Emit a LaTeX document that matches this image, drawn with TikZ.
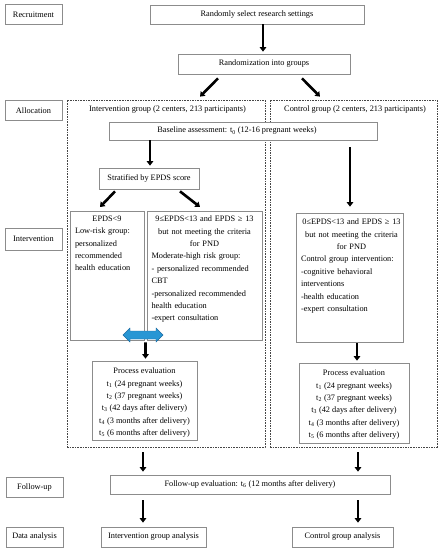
\documentclass[tikz,border=0pt]{standalone}
\usepackage{fontspec}
\setmainfont{Liberation Serif}
\usetikzlibrary{arrows.meta,calc}
\definecolor{boxgray}{RGB}{140,140,140}
\definecolor{dashgray}{RGB}{70,70,70}
\definecolor{blueA}{RGB}{40,150,212}
\definecolor{blueB}{RGB}{25,105,160}
\begin{document}
\begin{tikzpicture}[x=1pt,y=-1pt,
  every node/.style={font=\fontsize{8.3}{12.4}\selectfont, inner sep=0pt},
  box/.style={draw=boxgray, line width=0.7pt, fill=white},
  lab/.style={box, minimum width=57pt, minimum height=20pt},
  dbox/.style={draw=dashgray, line width=0.7pt, dash pattern=on 1.6pt off 1pt},
  arr/.style={line width=2.6pt, -{Triangle[width=6.5pt,length=4.5pt]}, shorten >=2pt},
  txt/.style={anchor=north}]
\useasboundingbox[fill=white] (0,0) rectangle (440,550);

% left column labels
\node[lab] (rec) at (33.5,14.5) {Recruitment};
\node[lab] (alloc) at (33.5,110.5) {Allocation};
\node[lab, minimum height=22pt] (interv) at (33.5,239) {Intervention};
\node[lab] (fol) at (34.5,487) {Follow-up};
\node[lab] (data) at (34.5,537) {Data analysis};

% top
\node[box, minimum width=214pt, minimum height=19pt] (sel) at (257,14.5) {Randomly select research settings};
\node[box, minimum width=172pt, minimum height=20pt] (rnd) at (264,64) {Randomization into groups};
\draw[arr] ($(sel.south)+(6,0)$) -- ($(rnd.north)+(-1,0)$);

% group containers
\node[dbox, minimum width=198pt, minimum height=347pt] (igrp) at (166,273.5) {};
\node[dbox, minimum width=167pt, minimum height=347pt] (cgrp) at (353.5,273.5) {};
\node (ititle) at (167.5,110) {Intervention group (2 centers, 213 participants)};
\node (ctitle) at (355,110) {Control group (2 centers, 213 participants)};

\draw[arr, shorten >=0pt] ($(rnd.south)+(-46,4)$) -- ($(igrp.north)+(34,-3)$);
\draw[arr, shorten >=0pt] ($(rnd.south)+(38,4)$) -- ($(cgrp.north)+(-33.5,-3)$);

% baseline
\node[box, minimum width=268pt, minimum height=18pt] (base) at (243,131) {};
\node (basetxt) at (237,131) {Baseline assessment: t\textsubscript{0} (12-16 pregnant weeks)};

% stratified
\node[box, minimum width=100pt, minimum height=21pt] (strat) at (149,178.5) {Stratified by EPDS score};
\draw[arr] ($(base.south)+(-93,0)$) -- ($(strat.north)+(1,0)$);
\draw[arr, shorten >=0pt] ($(strat.south)+(-34,2)$) -- ($(107,211)+(-7,-4)$);
\draw[arr, shorten >=0pt] ($(strat.south)+(31,2)$) -- ($(204.5,211)+(-4.5,-4)$);

% EPDS boxes
\node[box, minimum width=74pt, minimum height=129pt] (low) at (107,275.5) {};
\node[box, minimum width=115pt, minimum height=129pt] (mod) at (204.5,275.5) {};
\node[txt, text width=64pt] (lowtxt) at ($(low.north)+(0,5)$) {%
  {\centering EPDS<9\par}
  \raggedright Low-risk group:\\ personalized\\ recommended\\ health education};
\node[txt, text width=106pt] (modtxt) at ($(mod.north)+(0,5)$) {%
  {\centering 9≤EPDS<13 and EPDS ≥ 13\\ but not meeting the criteria\\ for PND\par}
  \raggedright Moderate-high risk group:\\ - personalized recommended\\ CBT\\ -personalized recommended\\ health education\\ -expert consultation};

% control box
\node[box, minimum width=107pt, minimum height=129pt] (ctrl) at (349.5,277.5) {};
\node[txt, text width=101pt] (ctrltxt) at ($(ctrl.north)+(2,6)$) {%
  {\centering 0≤EPDS<13 and EPDS ≥ 13\\ but not meeting the criteria\\ for PND\par}
  \raggedright Control group intervention:\\ -cognitive behavioral\\ interventions\\ -health education\\ -expert consultation};
\draw[arr] ($(base.south)+(107,7)$) -- ($(ctrl.north)+(0.5,-4)$);

% blue double arrow
\fill[blueA, draw=blueB, line width=0.4pt] (123,335) -- (130,328) -- (130,331) -- (156,331) -- (156,328)
  -- (163,335) -- (156,342) -- (156,339) -- (130,339) -- (130,342) -- cycle;

% process evaluations
\node[box, minimum width=105pt, minimum height=79pt] (procL) at (144.5,400.5) {};
\node[txt, align=center] (procLtxt) at ($(procL.north)+(0,7)$) {Process evaluation\\ t\textsubscript{1} (24 pregnant weeks)\\ t\textsubscript{2} (37 pregnant weeks)\\ t\textsubscript{3} (42 days after delivery)\\ t\textsubscript{4} (3 months after delivery)\\ t\textsubscript{5} (6 months after delivery)};
\draw[arr] ($(low.south east)!0.5!(mod.south west)+(0,2)$) -- ($(procL.north)+(1,0)$);

\node[box, minimum width=110pt, minimum height=80pt] (procR) at (354,403) {};
\node[txt, align=center] (procRtxt) at ($(procR.north)+(0,7)$) {Process evaluation\\ t\textsubscript{1} (24 pregnant weeks)\\ t\textsubscript{2} (37 pregnant weeks)\\ t\textsubscript{3} (42 days after delivery)\\ t\textsubscript{4} (3 months after delivery)\\ t\textsubscript{5} (6 months after delivery)};
\draw[arr] ($(ctrl.south)+(7.5,1)$) -- ($(procR.north)+(3,0)$);

% follow-up
\node[box, minimum width=280pt, minimum height=19pt] (fu) at (250,484.5) {Follow-up evaluation: t\textsubscript{6} (12 months after delivery)};
\draw[arr, shorten >=0pt] ($(igrp.south)+(-23,5)$) -- ($(fu.north)+(-107,-3)$);
\draw[arr, shorten >=0pt] ($(cgrp.south)+(4.5,5)$) -- ($(fu.north)+(108,-3)$);

% data analysis
\node[box, minimum width=105pt, minimum height=20pt] (ia) at (153.5,537) {Intervention group analysis};
\node[box, minimum width=101pt, minimum height=20pt] (ca) at (342.5,537) {Control group analysis};
\draw[arr, shorten >=0pt] ($(fu.south)+(-107,6)$) -- ($(ia.north)+(-10.5,-4)$);
\draw[arr, shorten >=0pt] ($(fu.south)+(108,6)$) -- ($(ca.north)+(15.5,-4)$);
\end{tikzpicture}
\end{document}
